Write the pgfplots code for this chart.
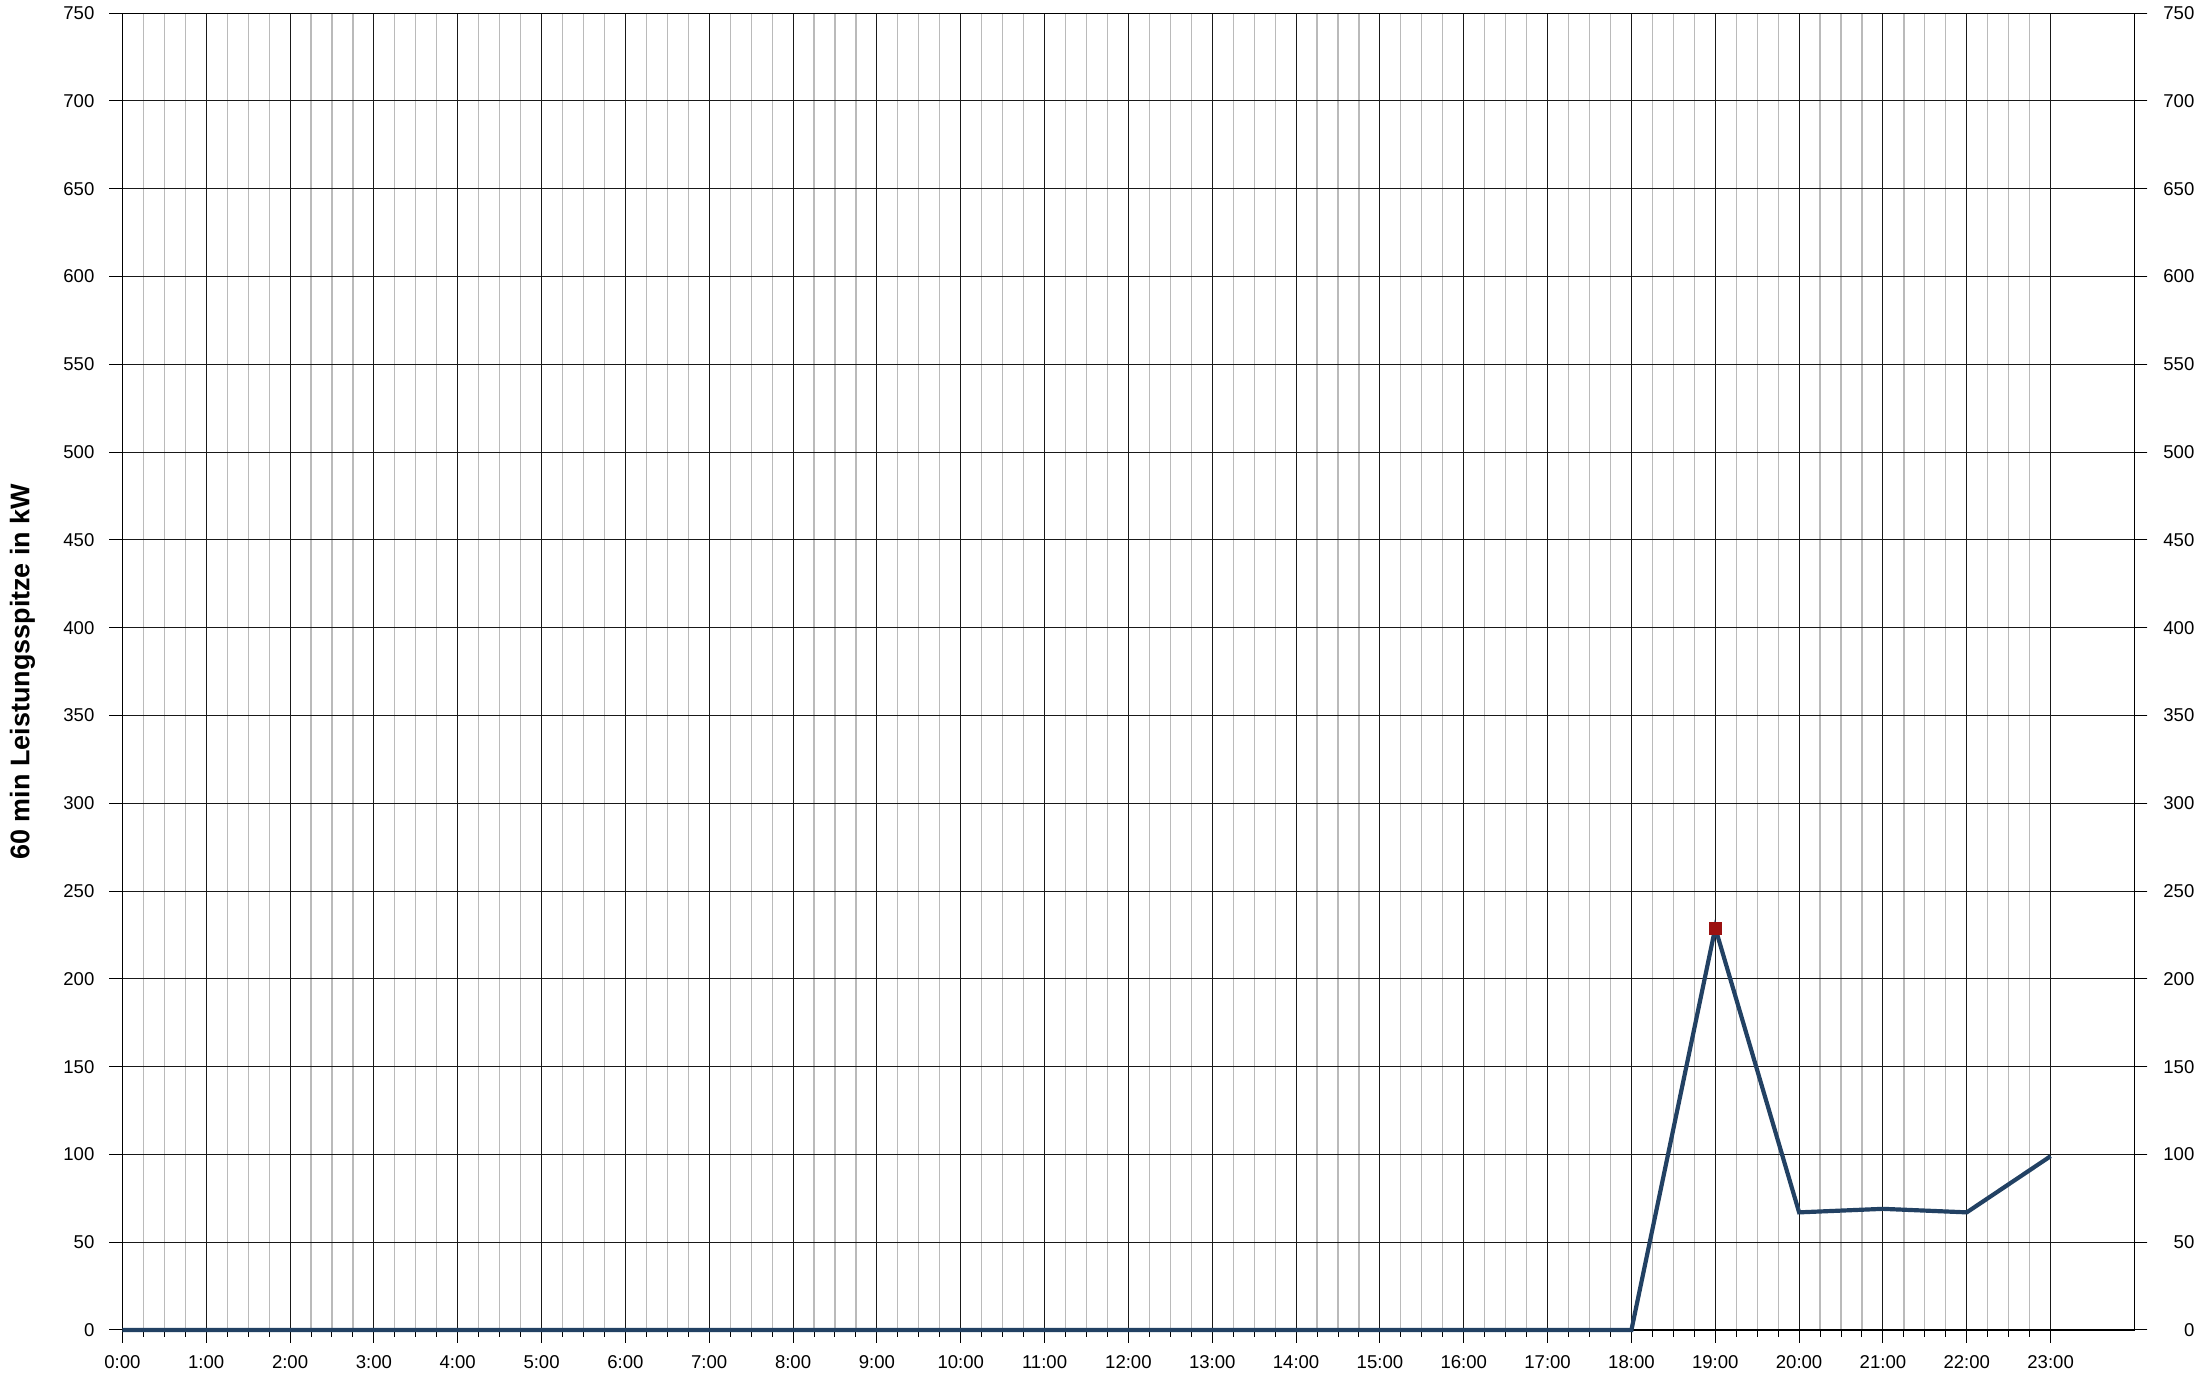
\documentclass[border=0pt]{standalone}
\usepackage{pgfplots}
\pgfplotsset{compat=1.18}
\usepackage{fontspec}
\setmainfont{Liberation Sans}
\definecolor{linecol}{RGB}{34,65,99}
\definecolor{markcol}{RGB}{155,17,17}

\begin{document}
\begin{tikzpicture}
\pgfplotsset{
  base/.style={
    width=1008.5pt, height=660pt, scale only axis,
    xmin=0, xmax=24, ymin=0, ymax=750,
    ytick={0,50,...,750},
    tick align=outside,
    major tick length=6.5pt, minor tick length=3.5pt,
    tick style={black, line width=0.5pt},
    ticklabel style={font=\fontsize{9.3}{11}\selectfont},
    /pgf/number format/assume math mode=true,
  }
}
\begin{axis}[base,
  xtick={0,...,23},
  xticklabels={0:00,1:00,2:00,3:00,4:00,5:00,6:00,7:00,8:00,9:00,10:00,11:00,
    12:00,13:00,14:00,15:00,16:00,17:00,18:00,19:00,20:00,21:00,22:00,23:00},
  minor x tick num=3,
  xtick pos=left,
  ytick pos=both, yticklabel pos=left,
  yticklabel style={xshift=-4pt},
  xticklabel style={yshift=-3pt},
  grid=both,
  major grid style={black!90, line width=0.5pt},
  minor grid style={black!27, line width=0.6pt},
  axis line style={black, line width=0.6pt},
  ylabel={60 min Leistungsspitze in kW},
  every axis y label/.style={at={([xshift=-38.5pt]axis description cs:0,0.5)},
    rotate=90, anchor=south, inner sep=5pt,
    font=\bfseries\fontsize{13.5}{16}\selectfont},
  clip=false,
]
\addplot[linecol, line width=2.1pt] coordinates {
  (0,0) (1,0) (2,0) (3,0) (4,0) (5,0) (6,0) (7,0) (8,0) (9,0)
  (10,0) (11,0) (12,0) (13,0) (14,0) (15,0) (16,0) (17,0) (18,0)
  (19,229) (20,67) (21,69) (22,67) (23,99)
};
\addplot[only marks, mark=square*, mark size=3pt, markcol] coordinates {(19,229)};
\end{axis}
\begin{axis}[base,
  hide x axis,
  axis line style={draw=none},
  ytick pos=right, yticklabel pos=right,
  yticklabel style={anchor=west, text width=20pt, align=right},
]
\end{axis}
\end{tikzpicture}
\end{document}
